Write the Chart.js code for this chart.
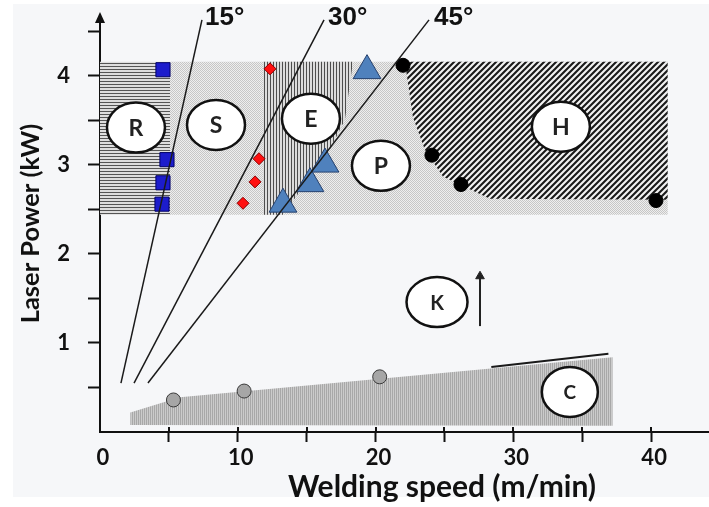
<!DOCTYPE html>
<html>
<head>
<meta charset="utf-8">
<title>Laser welding process map</title>
<script src="https://cdn.jsdelivr.net/npm/chart.js@4.4.1/dist/chart.umd.min.js"></script>
<style>
html,body{margin:0;padding:0;background:#ffffff;}
canvas{display:block;}
</style>
</head>
<body>
<canvas id="chart" width="709" height="507"></canvas>
<script>
// ===== Data (welding speed in m/min, laser power in kW) =====
const xTickLabels = [0, 10, 20, 30, 40];
const yTickLabels = [1, 2, 3, 4];

// process regions (polygons)
const regionSP_x = [5.08, 41.2, 41.2, 5.08];
const regionSP_y = [4.16, 4.16, 2.44, 2.44];
const regionR_x = [0, 5.08, 5.08, 0];
const regionR_y = [4.16, 4.16, 2.44, 2.44];
const regionE_x = [11.84, 18.36, 17.78, 16.47, 14.30, 13.28, 11.84];
const regionE_y = [4.16, 4.16, 3.51, 3.11, 2.66, 2.44, 2.44];
const regionH_x = [22.13, 41.2, 41.2, 28.30, 24.89, 23.58, 22.71];
const regionH_y = [4.16, 4.16, 2.61, 2.62, 2.87, 3.17, 3.54];
const regionC_x = [2.2, 5.8, 37.2, 37.2, 2.2];
const regionC_y = [0.22, 0.39, 0.84, 0.07, 0.08];
const edgeC_x = [28.4, 36.9];
const edgeC_y = [0.73, 0.88];

// measured points
const squareX = [4.57, 4.86, 4.57, 4.50];
const squareY = [4.07, 3.06, 2.80, 2.56];
const diamondX = [12.34, 11.54, 11.25, 10.38];
const diamondY = [4.08, 3.07, 2.81, 2.57];
const triangleX = [19.38, 16.33, 15.24, 13.28];
const triangleY = [4.06, 3.01, 2.79, 2.56];
const dotX = [21.99, 24.09, 26.20, 40.35];
const dotY = [4.12, 3.11, 2.78, 2.60];
const circleX = [5.33, 10.46, 20.30];
const circleY = [0.36, 0.46, 0.62];

// angle lines
const line15_x = [1.52, 7.40];
const line15_y = [0.55, 4.63];
const line30_x = [2.47, 16.26];
const line30_y = [0.55, 4.63];
const line45_x = [3.48, 23.88];
const line45_y = [0.55, 4.63];
const angleLabels = ['15°', '30°', '45°'];
const angleLabelX = [7.62, 16.55, 24.24];
const angleLabelY = [4.65, 4.65, 4.65];

// arrow next to K
const arrowX = [27.58, 27.58];
const arrowY = [1.19, 1.75];

// zone labels
const zoneLabels = ['R', 'S', 'E', 'P', 'H', 'K', 'C'];
const zoneX = [2.61, 8.42, 15.31, 20.39, 33.45, 24.46, 34.10];
const zoneY = [3.42, 3.45, 3.52, 2.99, 3.43, 1.46, 0.45];

// ===== helpers =====
function pts(xs, ys) { return xs.map((v, i) => ({x: v, y: ys[i]})); }
function makePattern(w, h, draw) {
  const c = document.createElement('canvas');
  c.width = w; c.height = h;
  const g = c.getContext('2d');
  draw(g, w, h);
  return document.getElementById('chart').getContext('2d').createPattern(c, 'repeat');
}
const patDots = makePattern(2, 2, (g) => {
  g.fillStyle = '#eeeeee'; g.fillRect(0, 0, 2, 2);
  g.fillStyle = '#c6c6c6'; g.fillRect(0, 0, 1, 1); g.fillRect(1, 1, 1, 1);
});
const patHoriz = makePattern(1, 3, (g) => {
  g.fillStyle = '#dedede'; g.fillRect(0, 0, 1, 3);
  g.fillStyle = '#555555'; g.fillRect(0, 0, 1, 1);
});
const patVert = makePattern(3, 1, (g) => {
  g.fillStyle = '#dcdcdc'; g.fillRect(0, 0, 3, 1);
  g.fillStyle = '#4d4d4d'; g.fillRect(0, 0, 1, 1);
});
const patDiag = makePattern(6, 6, (g, w, h) => {
  g.fillStyle = '#f2f2f2'; g.fillRect(0, 0, w, h);
  g.strokeStyle = '#1a1a1a'; g.lineWidth = 2.1; g.lineCap = 'square';
  g.beginPath();
  g.moveTo(0, h); g.lineTo(w, 0);
  g.moveTo(-w / 2, h / 2); g.lineTo(w / 2, -h / 2);
  g.moveTo(w / 2, h * 1.5); g.lineTo(w * 1.5, h / 2);
  g.stroke();
});
const patC = makePattern(2, 1, (g) => {
  g.fillStyle = '#cbcbcb'; g.fillRect(0, 0, 2, 1);
  g.fillStyle = '#a8a8a8'; g.fillRect(0, 0, 1, 1);
});

function region(xs, ys, pattern, order) {
  return {type: 'line', data: pts(xs, ys), showLine: true, fill: 'shape',
    backgroundColor: pattern, borderWidth: 0, borderColor: 'rgba(0,0,0,0)',
    pointRadius: 0, tension: 0, order: order};
}
function segment(xs, ys, width, order) {
  return {type: 'line', data: pts(xs, ys), showLine: true, fill: false,
    borderColor: '#1a1a1a', borderWidth: width, pointRadius: 0, tension: 0, order: order};
}
function markers(xs, ys, style, r, fillC, borderC, order) {
  return {type: 'line', data: pts(xs, ys), showLine: false, pointStyle: style,
    pointRadius: r, pointBackgroundColor: fillC, pointBorderColor: borderC,
    pointBorderWidth: 1, order: order};
}

// ===== plugins =====
const bgPlugin = {
  id: 'bg',
  beforeDraw(chart) {
    const c = chart.ctx;
    c.save();
    c.fillStyle = '#ffffff'; c.fillRect(0, 0, chart.width, chart.height);
    c.fillStyle = '#f6f7f9'; c.fillRect(13, 4, chart.width - 13, 493);
    c.restore();
  }
};
const labelPlugin = {
  id: 'labels',
  afterDatasetsDraw(chart) {
    const c = chart.ctx, xs = chart.scales.x, ys = chart.scales.y;
    c.save();
    zoneLabels.forEach((t, i) => {
      const px = xs.getPixelForValue(zoneX[i]), py = ys.getPixelForValue(zoneY[i]);
      const rx = t === 'K' ? 30.5 : (t === 'C' ? 28 : 29);
      c.beginPath(); c.ellipse(px, py, rx, 25, 0, 0, Math.PI * 2);
      c.fillStyle = '#ffffff'; c.fill();
      c.lineWidth = 2.5; c.strokeStyle = '#111111'; c.stroke();
      const fs = t === 'K' ? 20 : (t === 'C' ? 19 : 23);
      c.fillStyle = '#222222';
      c.font = 'bold ' + fs + 'px Lato, "Open Sans", sans-serif';
      c.textAlign = 'center'; c.textBaseline = 'middle';
      c.fillText(t, px, py + 1);
    });
    c.fillStyle = '#111111';
    c.font = 'bold 26px "Liberation Sans", Arial, sans-serif';
    c.textAlign = 'left'; c.textBaseline = 'middle';
    angleLabels.forEach((t, i) => {
      c.fillText(t, xs.getPixelForValue(angleLabelX[i]), ys.getPixelForValue(angleLabelY[i]));
    });
    c.restore();
  },
  afterDraw(chart) {
    const c = chart.ctx, a = chart.chartArea, xs = chart.scales.x;
    c.save();
    // y axis arrow head
    c.fillStyle = '#111111';
    c.beginPath();
    c.moveTo(a.left, a.top - 3); c.lineTo(a.left - 5, a.top + 8); c.lineTo(a.left + 5, a.top + 8);
    c.closePath(); c.fill();
    // inner part of x ticks
    c.strokeStyle = '#111111'; c.lineWidth = 2;
    xs.ticks.forEach(t => {
      if (t.value === 0) return;
      const px = Math.round(xs.getPixelForValue(t.value));
      c.beginPath(); c.moveTo(px, a.bottom - 5); c.lineTo(px, a.bottom); c.stroke();
    });
    // x axis title
    c.fillStyle = '#111111';
    c.font = 'bold 30px Lato, "Open Sans", sans-serif';
    c.textAlign = 'center'; c.textBaseline = 'middle';
    c.fillText('Welding speed (m/min)', 442, 487);
    c.restore();
  }
};

const tickFont = {family: 'Lato, "Open Sans", sans-serif', weight: 'bold', size: 22};
const tickColor = (ctx) => (ctx.tick && ctx.tick.value === 0) ? 'rgba(0,0,0,0)' : '#111111';

new Chart(document.getElementById('chart'), {
  type: 'line',
  data: {
    datasets: [
      region(regionSP_x, regionSP_y, patDots, 100),
      region(regionR_x, regionR_y, patHoriz, 99),
      region(regionE_x, regionE_y, patVert, 98),
      region(regionH_x, regionH_y, patDiag, 97),
      region(regionC_x, regionC_y, patC, 96),
      segment(edgeC_x, edgeC_y, 2, 50),
      markers(squareX, squareY, 'rect', 10, '#1c1ccc', '#000066', 30),
      markers(diamondX, diamondY, 'rectRot', 6, '#ff1010', '#8b0000', 30),
      markers(triangleX, triangleY, 'triangle', 16, '#4f81bd', '#24406e', 30),
      markers(dotX, dotY, 'circle', 7, '#000000', '#000000', 30),
      markers(circleX, circleY, 'circle', 7, '#a6a6a6', '#3a3a3a', 30),
      segment(line15_x, line15_y, 1.5, 10),
      segment(line30_x, line30_y, 1.5, 10),
      segment(line45_x, line45_y, 1.5, 10),
      {type: 'line', data: pts(arrowX, arrowY), showLine: true, fill: false,
        borderColor: '#222222', borderWidth: 2, tension: 0,
        pointStyle: 'triangle', pointRadius: [0, 5],
        pointBackgroundColor: '#222222', pointBorderColor: '#222222', pointBorderWidth: 1, order: 5}
    ]
  },
  options: {
    responsive: false,
    devicePixelRatio: 1,
    animation: false,
    events: [],
    layout: {autoPadding: false, padding: {left: 0, right: 0, top: 15, bottom: 0}},
    plugins: {legend: {display: false}, tooltip: {enabled: false}},
    scales: {
      x: {
        type: 'linear', min: 0, max: 44.2,
        afterFit(s) { s.height = 75; s.paddingLeft = 0; s.paddingRight = 0; },
        border: {display: true, color: '#111111', width: 2},
        grid: {drawOnChartArea: false, drawTicks: true, tickLength: 10, tickWidth: 2, color: tickColor},
        ticks: {stepSize: 5, includeBounds: false, autoSkip: false, maxRotation: 0, padding: 3,
          labelOffset: 3, color: '#111111', font: tickFont,
          callback: (v) => xTickLabels.includes(v) ? String(v) : ''},
        title: {display: false}
      },
      y: {
        type: 'linear', min: 0, max: 4.685,
        afterFit(s) { s.width = 100; s.paddingTop = 0; s.paddingBottom = 0; },
        border: {display: true, color: '#111111', width: 2},
        grid: {drawOnChartArea: false, drawTicks: true, tickLength: 12, tickWidth: 2, color: tickColor},
        ticks: {stepSize: 0.5, includeBounds: false, autoSkip: false, padding: 18,
          color: '#111111', font: tickFont,
          callback: (v) => yTickLabels.includes(v) ? String(v) : ''},
        title: {display: true, text: 'Laser Power (kW)', color: '#111111',
          font: {family: 'Lato, "Open Sans", sans-serif', weight: 'bold', size: 25.5},
          padding: {top: 15, bottom: 0}}
      }
    }
  },
  plugins: [bgPlugin, labelPlugin]
});
</script>
</body>
</html>
